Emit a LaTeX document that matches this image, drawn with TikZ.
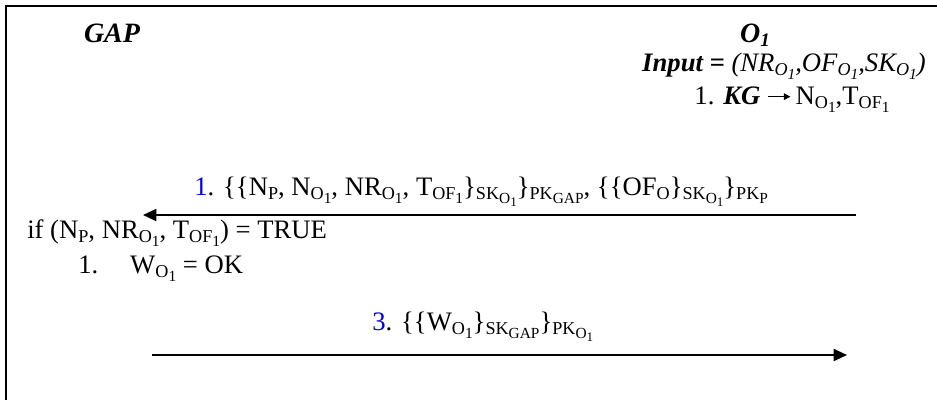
\documentclass[tikz,border=0pt]{standalone}
\usepackage{fontspec}
\setmainfont{Liberation Serif}
\usetikzlibrary{arrows.meta}
\newcommand{\sbs}[1]{\raisebox{-0.35ex}{\scalebox{0.68}{#1}}}
\newcommand{\ssb}[1]{\raisebox{-0.45ex}{\scalebox{0.85}{#1}}}
\newcommand{\kgarrow}{\tikz[baseline=-0.6ex]\draw[-{Triangle[length=5pt, width=5pt]}, line width=1.1pt] (0pt,0pt) -- (17pt,0pt);}
\colorlet{stepblue}{blue!90!black}

\begin{document}
\begin{tikzpicture}[x=0.75pt, y=-0.75pt, >={Triangle[length=10pt, width=9pt]},
    every node/.style={inner sep=0pt, font=\fontsize{20}{23}\selectfont},
    party/.style={anchor=base, font=\fontsize{21}{24}\selectfont\bfseries\itshape},
    msgline/.style={->, line width=1.4pt}]
    \useasboundingbox (0,0) rectangle (937,400);

        % CERCEVE
        \draw[line width=1.2pt] (6,400) -- (6,6) -- (937,6);

        % TARAFLAR
        \node[party] (gap) at (112, 42) {GAP};
        \node[party] (obj) at (755, 42) {O\sbs{1}};
        \node[anchor=base] (input) at (784, 71) {\textbf{\textit{Input =}} \textit{(NR\sbs{O\ssb{1}},OF\sbs{O\ssb{1}},SK\sbs{O\ssb{1}})}};
        \node[anchor=base] (kg) at (792, 104) {1. \textbf{\textit{KG}} \kgarrow\,N\sbs{O\ssb{1}},T\sbs{OF\ssb{1}}};

        % 1. MESAJ
        \node[anchor=base west] (msgone) at (194, 195) {\textcolor{stepblue}{1}. \{\{N\sbs{P}, N\sbs{O\ssb{1}}, NR\sbs{O\ssb{1}}, T\sbs{OF\ssb{1}}\}\sbs{SK\ssb{O\ssb{1}}}\}\sbs{PK\ssb{GAP}}, \{\{OF\sbs{O}\}\sbs{SK\ssb{O\ssb{1}}}\}\sbs{PK\ssb{P}}};
        \coordinate (oneR) at (856, 215);
        \coordinate (oneL) at (143, 215);
        \draw[msgline] (oneR) -- (oneL);

        % KONTROL
        \node[anchor=base west] (check) at (27, 238) {if (N\sbs{P}, NR\sbs{O\ssb{1}}, T\sbs{OF\ssb{1}}) = TRUE};
        \node[anchor=base west] (wok) at (78, 273) {1.\hspace{1.2em}W\sbs{O\ssb{1}} = OK};

        % 3. MESAJ
        \node[anchor=base west] (msgthree) at (372, 330) {\textcolor{stepblue}{3}. \{\{W\sbs{O\ssb{1}}\}\sbs{SK\ssb{GAP}}\}\sbs{PK\ssb{O\ssb{1}}}};
        \coordinate (threeL) at (152, 355);
        \coordinate (threeR) at (847, 355);
        \draw[msgline] (threeL) -- (threeR);
    \end{tikzpicture}
\end{document}
